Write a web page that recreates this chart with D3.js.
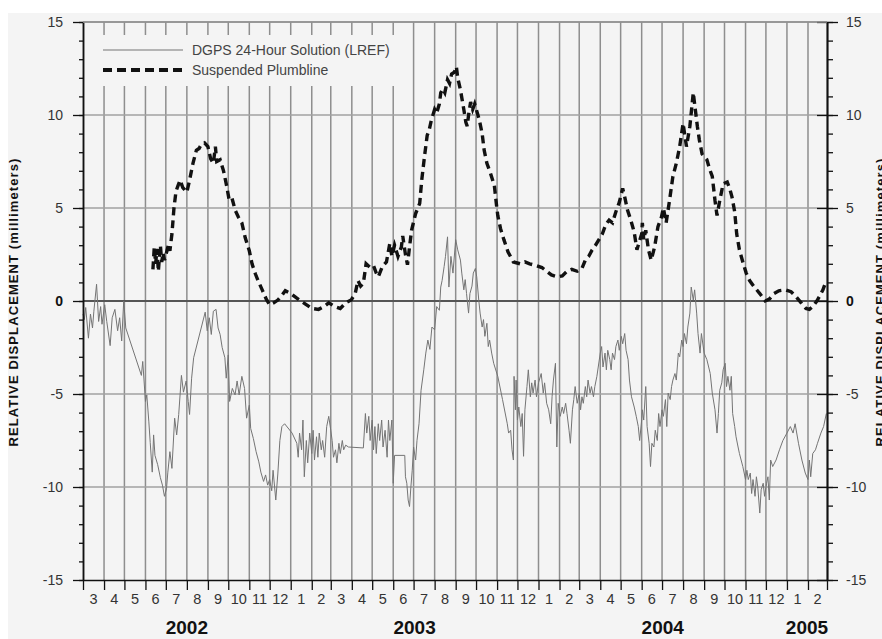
<!DOCTYPE html>
<html>
<head>
<meta charset="utf-8">
<script src="https://cdn.jsdelivr.net/npm/d3@7"></script>
<style>
  body { margin: 0; background: #ffffff; }
  svg { display: block; font-family: "Liberation Sans", Arial, sans-serif; }
</style>
</head>
<body>
<svg width="882" height="639"></svg>
<script>
// series values: [date, millimeters]
let plumbline = [
  ["2002-06-12", 1.7], ["2002-06-14", 2.9], ["2002-06-16", 2.0], ["2002-06-18", 2.8], ["2002-06-20", 1.6],
  ["2002-06-23", 3.0], ["2002-06-25", 2.1], ["2002-06-27", 2.6], ["2002-06-29", 2.2], ["2002-07-02", 2.6],
  ["2002-07-05", 3.05], ["2002-07-07", 2.7], ["2002-07-10", 3.6], ["2002-07-13", 5.0], ["2002-07-16", 5.9],
  ["2002-07-19", 6.2], ["2002-07-22", 6.5], ["2002-07-26", 6.1], ["2002-08-01", 5.85], ["2002-08-05", 6.5],
  ["2002-08-10", 7.4], ["2002-08-15", 8.1], ["2002-08-19", 8.2], ["2002-08-22", 8.4], ["2002-08-27", 8.5],
  ["2002-09-01", 8.3], ["2002-09-05", 7.65], ["2002-09-09", 7.4], ["2002-09-12", 8.3], ["2002-09-14", 7.5],
  ["2002-09-19", 7.6], ["2002-09-24", 7.0], ["2002-09-28", 6.3], ["2002-10-02", 5.5], ["2002-10-06", 5.6],
  ["2002-10-11", 4.9], ["2002-10-16", 4.5], ["2002-10-21", 4.2], ["2002-10-26", 3.4], ["2002-11-01", 2.7],
  ["2002-11-05", 2.0], ["2002-11-10", 1.45], ["2002-11-15", 1.0], ["2002-11-20", 0.6], ["2002-11-26", 0.1],
  ["2002-12-01", -0.2], ["2002-12-07", -0.1], ["2002-12-13", 0.05], ["2002-12-19", 0.3], ["2002-12-24", 0.55],
  ["2003-01-01", 0.4], ["2003-01-10", 0.15], ["2003-01-20", -0.1], ["2003-02-01", -0.4], ["2003-02-11", -0.45],
  ["2003-02-19", -0.3], ["2003-02-26", -0.1], ["2003-03-07", -0.3], ["2003-03-15", -0.4], ["2003-03-23", -0.1],
  ["2003-03-31", 0.05], ["2003-04-06", 0.4], ["2003-04-10", 1.1], ["2003-04-14", 0.8], ["2003-04-18", 0.95],
  ["2003-04-22", 2.0], ["2003-04-28", 1.8], ["2003-05-03", 1.9], ["2003-05-07", 1.5], ["2003-05-10", 1.3],
  ["2003-05-16", 1.85], ["2003-05-22", 2.1], ["2003-05-27", 3.1], ["2003-05-30", 2.4], ["2003-06-03", 3.0],
  ["2003-06-08", 2.4], ["2003-06-13", 2.9], ["2003-06-15", 3.5], ["2003-06-19", 2.5], ["2003-06-22", 1.95],
  ["2003-06-25", 2.9], ["2003-06-28", 3.8], ["2003-07-04", 4.7], ["2003-07-10", 5.25], ["2003-07-13", 6.5],
  ["2003-07-17", 7.75], ["2003-07-21", 8.9], ["2003-07-24", 9.2], ["2003-07-27", 9.7], ["2003-08-01", 10.3],
  ["2003-08-04", 10.1], ["2003-08-08", 10.6], ["2003-08-10", 11.2], ["2003-08-13", 11.4], ["2003-08-16", 11.2],
  ["2003-08-20", 11.9], ["2003-08-23", 11.7], ["2003-08-26", 12.2], ["2003-08-30", 12.3], ["2003-09-02", 12.6],
  ["2003-09-04", 12.0], ["2003-09-08", 11.35], ["2003-09-13", 10.3], ["2003-09-16", 9.6], ["2003-09-18", 9.4],
  ["2003-09-20", 10.0], ["2003-09-23", 10.7], ["2003-09-26", 10.3], ["2003-09-29", 10.6], ["2003-10-03", 10.1],
  ["2003-10-06", 9.7], ["2003-10-10", 9.0], ["2003-10-13", 8.1], ["2003-10-17", 7.4], ["2003-10-22", 6.9],
  ["2003-10-28", 6.2], ["2003-10-31", 5.2], ["2003-11-02", 4.6], ["2003-11-06", 3.9], ["2003-11-11", 3.3],
  ["2003-11-17", 2.65], ["2003-11-25", 2.1], ["2003-12-05", 2.0], ["2003-12-12", 2.1], ["2003-12-19", 2.0],
  ["2003-12-29", 1.9], ["2004-01-06", 1.8], ["2004-01-13", 1.6], ["2004-01-20", 1.4], ["2004-01-29", 1.3],
  ["2004-02-05", 1.35], ["2004-02-12", 1.6], ["2004-02-19", 1.7], ["2004-02-27", 1.6], ["2004-03-05", 1.75],
  ["2004-03-10", 2.2], ["2004-03-15", 2.4], ["2004-03-20", 2.75], ["2004-03-25", 3.0], ["2004-03-30", 3.3],
  ["2004-04-04", 3.6], ["2004-04-09", 4.1], ["2004-04-14", 4.35], ["2004-04-19", 4.2], ["2004-04-24", 4.8],
  ["2004-04-29", 5.3], ["2004-05-04", 6.05], ["2004-05-07", 5.6], ["2004-05-11", 4.9], ["2004-05-16", 4.35],
  ["2004-05-21", 3.7], ["2004-05-25", 2.75], ["2004-06-01", 3.6], ["2004-06-02", 4.2], ["2004-06-04", 3.3],
  ["2004-06-07", 3.8], ["2004-06-11", 2.75], ["2004-06-15", 2.2], ["2004-06-20", 2.9], ["2004-06-25", 4.0],
  ["2004-06-30", 4.5], ["2004-07-03", 5.0], ["2004-07-07", 4.2], ["2004-07-12", 5.4], ["2004-07-17", 6.7],
  ["2004-07-22", 7.4], ["2004-07-27", 8.3], ["2004-08-01", 9.55], ["2004-08-06", 8.3], ["2004-08-11", 9.4],
  ["2004-08-16", 11.2], ["2004-08-19", 10.3], ["2004-08-22", 9.4], ["2004-08-25", 8.65], ["2004-08-29", 7.9],
  ["2004-09-05", 7.6], ["2004-09-09", 7.1], ["2004-09-13", 6.7], ["2004-09-17", 5.4], ["2004-09-20", 4.6],
  ["2004-09-24", 5.4], ["2004-09-29", 6.3], ["2004-10-05", 6.4], ["2004-10-09", 6.0], ["2004-10-12", 5.6],
  ["2004-10-16", 4.8], ["2004-10-19", 3.6], ["2004-10-23", 2.75], ["2004-10-28", 2.1], ["2004-11-02", 1.5],
  ["2004-11-07", 1.1], ["2004-11-14", 0.75], ["2004-11-22", 0.4], ["2004-11-30", 0.0], ["2004-12-06", 0.1],
  ["2004-12-13", 0.4], ["2004-12-20", 0.55], ["2004-12-30", 0.6], ["2005-01-07", 0.5], ["2005-01-14", 0.25],
  ["2005-01-22", -0.1], ["2005-01-29", -0.4], ["2005-02-03", -0.45], ["2005-02-08", -0.3], ["2005-02-14", 0.0],
  ["2005-02-18", 0.25], ["2005-02-23", 0.6], ["2005-02-28", 1.1]
];

let dgps = [
  ["2002-03-01", -0.7], ["2002-03-03", -1.0], ["2002-03-05", -0.35], ["2002-03-09", -2.0], ["2002-03-12", -0.7],
  ["2002-03-15", -1.45], ["2002-03-17", -0.55], ["2002-03-21", 0.9], ["2002-03-24", -1.1], ["2002-03-27", -0.3],
  ["2002-03-29", -1.25], ["2002-04-02", -0.2], ["2002-04-05", -1.1], ["2002-04-10", -2.4], ["2002-04-13", -0.9],
  ["2002-04-17", -0.45], ["2002-04-21", -1.6], ["2002-04-24", -0.9], ["2002-04-27", -2.15], ["2002-04-30", 0.0],
  ["2002-05-03", -1.45], ["2002-05-26", -4.0], ["2002-05-28", -3.25], ["2002-06-01", -5.4], ["2002-06-03", -5.05],
  ["2002-06-06", -6.5], ["2002-06-08", -7.6], ["2002-06-11", -9.2], ["2002-06-13", -7.2], ["2002-06-15", -8.3],
  ["2002-06-19", -8.8], ["2002-06-23", -9.5], ["2002-06-26", -9.9], ["2002-06-29", -10.5], ["2002-07-02", -10.1],
  ["2002-07-04", -9.2], ["2002-07-07", -8.1], ["2002-07-10", -9.0], ["2002-07-14", -6.3], ["2002-07-17", -7.2],
  ["2002-07-20", -6.1], ["2002-07-24", -4.0], ["2002-07-27", -4.9], ["2002-07-31", -4.3], ["2002-08-03", -5.4],
  ["2002-08-05", -6.1], ["2002-08-08", -4.15], ["2002-08-11", -3.05], ["2002-08-28", -0.6], ["2002-08-31", -1.6],
  ["2002-09-03", -0.9], ["2002-09-06", -1.8], ["2002-09-09", -0.55], ["2002-09-13", -0.45], ["2002-09-16", -1.45],
  ["2002-09-19", -1.8], ["2002-09-22", -2.5], ["2002-09-26", -3.05], ["2002-09-28", -4.15], ["2002-10-01", -2.9],
  ["2002-10-03", -5.4], ["2002-10-07", -4.7], ["2002-10-11", -5.05], ["2002-10-14", -4.3], ["2002-10-17", -5.05],
  ["2002-10-21", -4.05], ["2002-10-25", -4.7], ["2002-10-28", -6.3], ["2002-11-01", -5.6], ["2002-11-03", -6.85],
  ["2002-11-07", -7.4], ["2002-11-11", -8.1], ["2002-11-15", -8.65], ["2002-11-18", -9.2], ["2002-11-22", -9.7],
  ["2002-11-25", -9.35], ["2002-11-28", -9.9], ["2002-12-01", -9.6], ["2002-12-04", -10.2], ["2002-12-06", -9.1],
  ["2002-12-10", -10.7], ["2002-12-13", -9.3], ["2002-12-16", -7.5], ["2002-12-19", -6.75], ["2002-12-23", -6.6],
  ["2003-01-03", -7.1], ["2003-01-10", -7.65], ["2003-01-12", -8.4], ["2003-01-14", -7.1], ["2003-01-17", -8.0],
  ["2003-01-19", -6.4], ["2003-01-21", -9.45], ["2003-01-24", -7.5], ["2003-01-26", -8.7], ["2003-01-29", -7.1],
  ["2003-02-01", -8.2], ["2003-02-03", -6.95], ["2003-02-05", -8.55], ["2003-02-08", -7.3], ["2003-02-10", -8.4],
  ["2003-02-12", -7.1], ["2003-02-15", -8.0], ["2003-02-17", -7.5], ["2003-02-20", -8.4], ["2003-02-23", -6.75],
  ["2003-02-26", -6.2], ["2003-03-01", -6.95], ["2003-03-03", -7.5], ["2003-03-05", -8.4], ["2003-03-08", -8.0],
  ["2003-03-10", -8.7], ["2003-03-13", -7.65], ["2003-03-15", -8.2], ["2003-03-18", -7.5], ["2003-03-20", -8.0],
  ["2003-03-23", -7.75], ["2003-03-27", -7.85], ["2003-04-18", -7.9], ["2003-04-21", -6.05], ["2003-04-23", -7.1],
  ["2003-04-26", -6.2], ["2003-04-28", -7.5], ["2003-05-01", -6.4], ["2003-05-03", -8.0], ["2003-05-05", -6.75],
  ["2003-05-07", -8.2], ["2003-05-10", -6.6], ["2003-05-12", -7.5], ["2003-05-15", -6.4], ["2003-05-17", -7.85],
  ["2003-05-20", -6.95], ["2003-05-23", -8.4], ["2003-05-25", -6.4], ["2003-05-27", -7.5], ["2003-05-30", -6.4],
  ["2003-06-01", -9.8], ["2003-06-03", -8.3], ["2003-06-18", -8.3], ["2003-06-19", -9.45], ["2003-06-21", -9.8],
  ["2003-06-23", -10.7], ["2003-06-25", -11.05], ["2003-06-27", -10.0], ["2003-06-29", -9.1], ["2003-07-01", -7.85],
  ["2003-07-04", -8.55], ["2003-07-06", -7.5], ["2003-07-09", -6.6], ["2003-07-12", -4.8], ["2003-07-16", -3.7],
  ["2003-07-19", -2.8], ["2003-07-22", -2.1], ["2003-07-25", -2.6], ["2003-07-28", -1.4], ["2003-08-01", -1.55],
  ["2003-08-04", -0.3], ["2003-08-08", -0.5], ["2003-08-10", 0.75], ["2003-08-12", 1.1], ["2003-08-15", 1.85],
  ["2003-08-17", 2.4], ["2003-08-20", 3.45], ["2003-08-22", 0.75], ["2003-08-25", 2.4], ["2003-08-28", 1.5],
  ["2003-09-01", 3.3], ["2003-09-04", 2.75], ["2003-09-08", 2.2], ["2003-09-10", 1.5], ["2003-09-13", 0.6],
  ["2003-09-15", 1.15], ["2003-09-17", 0.4], ["2003-09-20", -0.65], ["2003-09-22", 0.4], ["2003-09-25", 0.8],
  ["2003-09-27", 1.5], ["2003-09-30", 1.75], ["2003-10-02", 1.3], ["2003-10-05", 0.05], ["2003-10-07", -0.65],
  ["2003-10-10", -1.4], ["2003-10-12", -1.0], ["2003-10-14", -1.9], ["2003-10-17", -1.2], ["2003-10-19", -2.45],
  ["2003-10-21", -2.1], ["2003-10-24", -2.8], ["2003-10-27", -3.35], ["2003-11-02", -4.05], ["2003-11-09", -5.3],
  ["2003-11-16", -6.6], ["2003-11-18", -7.1], ["2003-11-21", -6.95], ["2003-11-23", -8.0], ["2003-11-25", -8.55],
  ["2003-11-26", -4.05], ["2003-11-28", -5.85], ["2003-11-29", -4.25], ["2003-12-01", -6.4], ["2003-12-03", -5.7],
  ["2003-12-06", -6.75], ["2003-12-08", -6.05], ["2003-12-10", -8.35], ["2003-12-12", -5.85], ["2003-12-15", -4.6],
  ["2003-12-17", -3.7], ["2003-12-20", -5.15], ["2003-12-22", -4.4], ["2003-12-24", -4.95], ["2003-12-27", -4.25],
  ["2003-12-29", -5.15], ["2004-01-01", -4.4], ["2004-01-05", -3.9], ["2004-01-08", -4.95], ["2004-01-10", -4.4],
  ["2004-01-13", -5.5], ["2004-01-16", -5.85], ["2004-01-19", -6.6], ["2004-01-21", -5.15], ["2004-01-23", -4.25],
  ["2004-01-26", -3.35], ["2004-01-28", -7.85], ["2004-01-30", -5.5], ["2004-02-02", -6.2], ["2004-02-05", -5.7],
  ["2004-02-07", -6.05], ["2004-02-10", -5.5], ["2004-02-12", -6.05], ["2004-02-15", -6.95], ["2004-02-17", -7.65],
  ["2004-02-20", -5.85], ["2004-02-22", -5.3], ["2004-02-24", -4.6], ["2004-02-27", -5.5], ["2004-03-01", -4.95],
  ["2004-03-03", -5.85], ["2004-03-05", -5.15], ["2004-03-07", -5.5], ["2004-03-10", -4.6], ["2004-03-12", -5.15],
  ["2004-03-14", -4.25], ["2004-03-17", -4.95], ["2004-03-19", -4.6], ["2004-03-22", -5.15], ["2004-03-24", -4.6],
  ["2004-03-27", -4.05], ["2004-04-01", -2.8], ["2004-04-03", -2.45], ["2004-04-05", -3.55], ["2004-04-08", -2.8],
  ["2004-04-10", -3.7], ["2004-04-12", -2.65], ["2004-04-15", -3.15], ["2004-04-17", -3.7], ["2004-04-19", -2.8],
  ["2004-04-22", -3.15], ["2004-04-24", -2.45], ["2004-04-27", -2.1], ["2004-04-29", -2.65], ["2004-05-02", -1.9],
  ["2004-05-04", -2.3], ["2004-05-07", -1.75], ["2004-05-09", -2.65], ["2004-05-12", -3.15], ["2004-05-14", -4.25],
  ["2004-05-17", -5.15], ["2004-05-21", -5.7], ["2004-05-24", -6.2], ["2004-05-27", -6.75], ["2004-05-29", -7.5],
  ["2004-06-01", -6.4], ["2004-06-02", -5.85], ["2004-06-04", -6.4], ["2004-06-07", -4.6], ["2004-06-09", -6.75],
  ["2004-06-12", -7.65], ["2004-06-14", -8.9], ["2004-06-16", -7.65], ["2004-06-19", -7.85], ["2004-06-21", -6.95],
  ["2004-06-24", -7.5], ["2004-06-26", -6.05], ["2004-06-28", -6.75], ["2004-07-01", -5.85], ["2004-07-03", -6.2],
  ["2004-07-06", -5.3], ["2004-07-08", -6.75], ["2004-07-10", -4.95], ["2004-07-13", -5.3], ["2004-07-15", -4.6],
  ["2004-07-17", -4.25], ["2004-07-20", -3.9], ["2004-07-22", -4.25], ["2004-07-25", -2.8], ["2004-07-27", -3.0],
  ["2004-07-30", -2.1], ["2004-08-01", -2.45], ["2004-08-03", -1.75], ["2004-08-06", -2.3], ["2004-08-08", -1.4],
  ["2004-08-11", -0.65], ["2004-08-13", 0.75], ["2004-08-16", 0.05], ["2004-08-18", 0.6], ["2004-08-21", -0.65],
  ["2004-08-23", -1.75], ["2004-08-26", -2.8], ["2004-08-28", -1.75], ["2004-09-01", -2.8], ["2004-09-05", -3.15],
  ["2004-09-10", -3.9], ["2004-09-13", -4.95], ["2004-09-17", -5.85], ["2004-09-20", -7.1], ["2004-09-22", -6.05],
  ["2004-09-24", -4.8], ["2004-09-27", -4.4], ["2004-09-29", -3.7], ["2004-10-02", -3.35], ["2004-10-04", -4.6],
  ["2004-10-06", -4.05], ["2004-10-09", -4.8], ["2004-10-11", -4.05], ["2004-10-13", -6.05], ["2004-10-16", -6.75],
  ["2004-10-18", -7.3], ["2004-10-21", -7.85], ["2004-10-23", -8.2], ["2004-10-28", -8.9], ["2004-11-01", -9.6],
  ["2004-11-03", -9.1], ["2004-11-05", -9.6], ["2004-11-08", -9.25], ["2004-11-10", -10.35], ["2004-11-12", -9.6],
  ["2004-11-15", -10.5], ["2004-11-17", -9.45], ["2004-11-19", -10.0], ["2004-11-22", -11.4], ["2004-11-24", -10.15],
  ["2004-11-27", -9.8], ["2004-11-29", -10.5], ["2004-12-02", -9.8], ["2004-12-04", -9.45], ["2004-12-06", -10.7],
  ["2004-12-08", -8.55], ["2004-12-11", -8.9], ["2004-12-16", -8.55], ["2004-12-21", -8.0], ["2004-12-26", -7.5],
  ["2005-01-01", -7.1], ["2005-01-06", -6.75], ["2005-01-10", -7.1], ["2005-01-13", -6.6], ["2005-01-18", -7.65],
  ["2005-01-23", -8.55], ["2005-01-28", -9.25], ["2005-02-01", -9.6], ["2005-02-03", -8.55], ["2005-02-05", -9.45],
  ["2005-02-08", -8.2], ["2005-02-12", -8.0], ["2005-02-15", -7.65], ["2005-02-20", -7.1], ["2005-02-24", -6.75],
  ["2005-02-28", -6.05]
];

let y_ticks = [-15, -10, -5, 0, 5, 10, 15];
let years = ["2002", "2003", "2004", "2005"];
let legend_labels = ["DGPS 24-Hour Solution (LREF)", "Suspended Plumbline"];
let axis_title = "RELATIVE DISPLACEMENT (millimeters)";
let start_date = "2002-03-01", end_date = "2005-03-01";

var svg = d3.select("svg");
var parse = d3.timeParse("%Y-%m-%d");
var margin = {top: 22, right: 55, bottom: 59, left: 83};
var width = +svg.attr("width") - margin.left - margin.right;
var height = +svg.attr("height") - margin.top - margin.bottom;

var x = d3.scaleTime().domain([parse(start_date), parse(end_date)]).range([margin.left, margin.left + width]);
var y = d3.scaleLinear().domain([-15, 15]).range([margin.top + height, margin.top]);

// page background
svg.append("rect").attr("x", 8).attr("y", 13).attr("width", 874).attr("height", 626).attr("fill", "#f4f4f4");

var months = d3.timeMonth.range(parse(start_date), parse(end_date));

// grid
svg.append("g").selectAll("line")
  .data(months.slice(1))
  .enter().append("line")
    .attr("x1", d => x(d)).attr("x2", d => x(d))
    .attr("y1", y(15)).attr("y2", y(-15))
    .attr("stroke", "#8e8e8e").attr("stroke-width", 1.5);

svg.append("g").selectAll("line")
  .data(y_ticks.filter(d => d != 0 && d != -15))
  .enter().append("line")
    .attr("x1", x.range()[0]).attr("x2", x.range()[1])
    .attr("y1", d => y(d)).attr("y2", d => y(d))
    .attr("stroke", "#a2a2a2").attr("stroke-width", 1.5);

svg.append("line")
  .attr("x1", x.range()[0]).attr("x2", x.range()[1])
  .attr("y1", y(0)).attr("y2", y(0))
  .attr("stroke", "#555").attr("stroke-width", 2);

// legend box covers the grid
svg.append("rect").attr("x", 97).attr("y", 35).attr("width", 302).attr("height", 51).attr("fill", "#f4f4f4");

// lines
var line = d3.line().x(d => x(parse(d[0]))).y(d => y(d[1]));

svg.append("path")
  .datum(dgps)
  .attr("d", line)
  .attr("fill", "none")
  .attr("stroke", "#747474")
  .attr("stroke-width", 1);

svg.append("path")
  .datum(plumbline)
  .attr("d", line)
  .attr("fill", "none")
  .attr("stroke", "#111")
  .attr("stroke-width", 3.4)
  .attr("stroke-dasharray", "8,5");

// axes
var axis_font = function(g) {
  g.selectAll("text").attr("font-family", "Liberation Sans, Arial, sans-serif").attr("font-size", 14).attr("fill", "#333");
  g.selectAll("line").attr("stroke", "#111").attr("stroke-width", 1.3);
  g.select(".domain").attr("stroke", "#111").attr("stroke-width", 1.5);
};
var plain = d => String(d);

svg.append("g")
  .attr("transform", "translate(" + margin.left + ",0)")
  .call(d3.axisLeft(y).ticks(30).tickSize(4).tickSizeOuter(0).tickFormat(""))
  .call(axis_font);

var left_axis = svg.append("g")
  .attr("transform", "translate(" + margin.left + ",0)")
  .call(d3.axisLeft(y).tickValues(y_ticks).tickSize(10).tickSizeOuter(0).tickPadding(10).tickFormat(plain))
  .call(axis_font);
left_axis.selectAll("text").filter(d => d == 0).attr("font-weight", "bold").attr("fill", "#111");

var right_x = margin.left + width;
svg.append("g")
  .attr("transform", "translate(" + right_x + ",0)")
  .call(d3.axisRight(y).ticks(30).tickSize(6).tickSizeOuter(0).tickFormat(""))
  .call(axis_font);

svg.append("g")
  .attr("transform", "translate(" + right_x + ",0)")
  .call(d3.axisLeft(y).tickValues(y_ticks).tickSize(10).tickSizeOuter(0).tickFormat(""))
  .call(axis_font);

var right_axis = svg.append("g")
  .attr("transform", "translate(" + right_x + ",0)")
  .call(d3.axisRight(y).tickValues(y_ticks).tickSize(11).tickSizeOuter(0).tickPadding(8).tickFormat(plain))
  .call(axis_font);
right_axis.selectAll("text").filter(d => d == 0).attr("font-weight", "bold").attr("fill", "#111");

svg.append("line")
  .attr("x1", x.range()[0]).attr("x2", x.range()[1])
  .attr("y1", y(15)).attr("y2", y(15))
  .attr("stroke", "#8e8e8e").attr("stroke-width", 1.5);

svg.append("g")
  .attr("transform", "translate(0," + y(-15) + ")")
  .call(d3.axisBottom(x).tickValues(months.concat([parse(end_date)])).tickSize(10).tickSizeOuter(0).tickFormat(""))
  .call(axis_font);

// month numbers sit in the middle of each month
svg.append("g").selectAll("text")
  .data(months)
  .enter().append("text")
    .attr("x", d => (x(d) + x(d3.timeMonth.offset(d, 1))) / 2)
    .attr("y", 604)
    .attr("text-anchor", "middle")
    .attr("font-size", 14.5)
    .attr("fill", "#333")
    .text(d => d.getMonth() + 1);

svg.append("g").selectAll("text")
  .data(years)
  .enter().append("text")
    .attr("x", function(d) {
      var a = d3.max([parse(d + "-01-01"), parse(start_date)]);
      var b = d3.min([parse((+d + 1) + "-01-01"), parse(end_date)]);
      return (x(a) + x(b)) / 2;
    })
    .attr("y", 634)
    .attr("text-anchor", "middle")
    .attr("font-size", 19)
    .attr("font-weight", "bold")
    .attr("fill", "#111")
    .text(d => d);

// axis titles
[13, 880].forEach(function(tx) {
  svg.append("text")
    .attr("transform", "translate(" + tx + "," + 302 + ") rotate(-90)")
    .attr("text-anchor", "middle")
    .attr("dominant-baseline", "central")
    .attr("font-size", 13)
    .attr("font-weight", "bold")
    .attr("letter-spacing", 1.1)
    .attr("fill", "#111")
    .text(axis_title);
});

// legend
var legend = svg.append("g");
legend.append("line").attr("x1", 103).attr("x2", 183).attr("y1", 50).attr("y2", 50)
  .attr("stroke", "#747474").attr("stroke-width", 1);
legend.append("line").attr("x1", 103).attr("x2", 183).attr("y1", 70).attr("y2", 70)
  .attr("stroke", "#111").attr("stroke-width", 4).attr("stroke-dasharray", "9,5");
legend.selectAll("text")
  .data(legend_labels)
  .enter().append("text")
    .attr("x", 192)
    .attr("y", (d, i) => 54.5 + i * 20)
    .attr("font-size", 14)
    .attr("fill", "#444")
    .text(d => d);
</script>
